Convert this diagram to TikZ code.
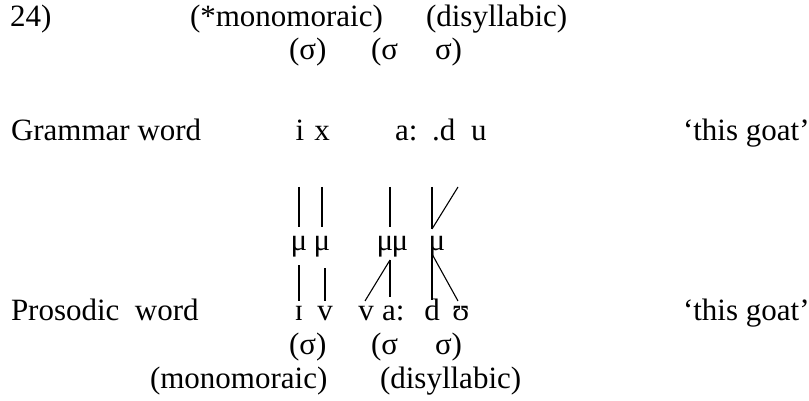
\documentclass[tikz,border=0pt]{standalone}
\usepackage{fontspec}
\setmainfont{Liberation Serif}
\begin{document}
\begin{tikzpicture}[x=1pt,y=-1pt,
  every node/.style={inner sep=0pt,outer sep=0pt,font=\fontsize{31}{36}\selectfont},
  txt/.style={anchor=base west},
  seg/.style={anchor=base},
  assoc/.style={line width=1.1pt}]
\useasboundingbox (0,0) rectangle (809,401);
% top line
\node[txt] (ex) at (10,27) {24)};
\node[txt] (mono1) at (190,27) {(*monomoraic)};
\node[txt] (disy1) at (426,27) {(disyllabic)};
\node[txt] (s1a) at (289,60) {(σ)};
\node[txt] (s1b) at (371,60) {(σ};
\node[txt] (s1c) at (435,60) {σ)};
% grammar word
\node[txt] (gw) at (11,141) {Grammar word};
\node[seg] (gi) at (300,141) {i};
\node[seg] (gx) at (322,141) {x};
\node[txt] (ga) at (395,141) {a:};
\node[txt] (gd) at (432,141) {.d};
\node[txt] (gu) at (471,141) {u};
\node[txt] (gl1) at (683,141) {‘this goat’};
% upper association line ends
\coordinate (t1) at (299,187);
\coordinate (t2) at (322,187);
\coordinate (t3) at (390,187);
\coordinate (t4) at (432,187);
\coordinate (t5) at (458,187);
% moras
\node[seg] (m1) at (299,250) {μ};
\node[seg] (m2) at (322,250) {μ};
\node[seg] (m3) at (385,250) {μ};
\node[seg] (m4) at (400,250) {μ};
\node[seg] (m5) at (437,250) {μ};
\coordinate (u1) at (299,227);
\coordinate (u2) at (322,227);
\coordinate (u3) at (390,227);
\coordinate (u4) at (432,229);
\draw[assoc] (t1) -- (u1);
\draw[assoc] (t2) -- (u2);
\draw[assoc] (t3) -- (u3);
\draw[assoc] (t4) -- (u4);
\draw[assoc] (t5) -- (u4);
% lower association lines
\coordinate (l1) at (299,265);
\coordinate (l2) at (325,268);
\coordinate (l3) at (390,260);
\coordinate (l4) at (432,254);
\coordinate (b1) at (299,301);
\coordinate (b2) at (325,301);
\coordinate (b3) at (365,301);
\coordinate (b4) at (390,297);
\coordinate (b5) at (432,300);
\coordinate (b6) at (458,301);
\draw[assoc] (l1) -- (b1);
\draw[assoc] (l2) -- (b2);
\draw[assoc] (l3) -- (b3);
\draw[assoc] (l3) -- (b4);
\draw[assoc] (l4) -- (b5);
\draw[assoc] (l4) -- (b6);
% prosodic word
\node[txt] (pw) at (11,320) {Prosodic\ \ word};
\node[seg] (pi) at (299,320) {ɪ};
\node[seg] (pv1) at (325,320) {v};
\node[seg] (pv2) at (366,320) {v};
\node[txt] (pa) at (382,320) {a:};
\node[seg] (pd) at (432,320) {d};
\node[seg] (pu) at (461,320) {ʊ};
\node[txt] (gl2) at (683,320) {‘this goat’};
% bottom
\node[txt] (s2a) at (289,354) {(σ)};
\node[txt] (s2b) at (371,354) {(σ};
\node[txt] (s2c) at (435,354) {σ)};
\node[txt] (mono2) at (150,388) {(monomoraic)};
\node[txt] (disy2) at (380,388) {(disyllabic)};
\end{tikzpicture}
\end{document}
